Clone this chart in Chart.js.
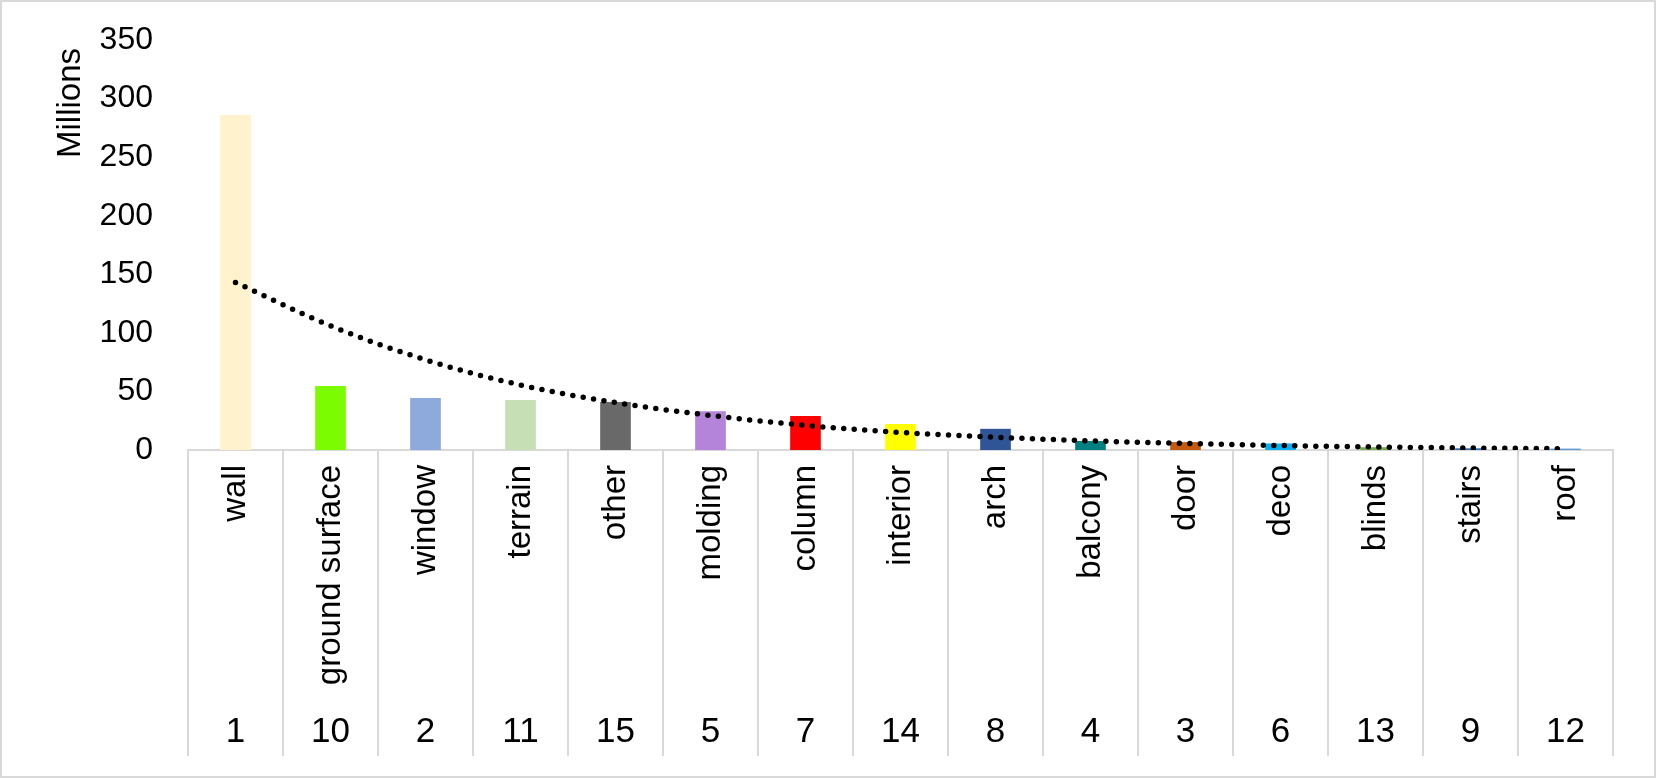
<!DOCTYPE html>
<html>
<head>
<meta charset="utf-8">
<style>
  html, body { margin: 0; padding: 0; background: #fff; }
  #wrap { width: 1656px; height: 778px; position: relative; }
</style>
<script src="https://cdn.jsdelivr.net/npm/chart.js@4"></script>
</head>
<body>
<div id="wrap"><canvas id="chart" width="1656" height="778"></canvas></div>
<script>
// categories in display order (sorted by size), with their class id
const categories = ["wall", "ground surface", "window", "terrain", "other", "molding", "column",
                    "interior", "arch", "balcony", "door", "deco", "blinds", "stairs", "roof"];
const classIds = ["1", "10", "2", "11", "15", "5", "7", "14", "8", "4", "3", "6", "13", "9", "12"];

// point counts, millions
const counts = [285.6, 54.4, 44.2, 42.4, 40.7, 32.7, 28.7, 21.9, 17.8, 7.4, 6.5, 5.3, 2.1, 1.2, 0.9];

const trend = [143, 106, 77, 55.5, 40.5, 29.5, 21, 15, 10.9, 7.8, 5.6, 3.8, 2.6, 1.7, 1.1];

const barColors = ["#FFF2CC", "#7CFC00", "#8EA9DB", "#C6E0B4", "#696969", "#B483DA", "#FF0000",
                   "#FFFF00", "#2F5597", "#008080", "#C55A11", "#00B0F0", "#70AD47", "#2E75B6", "#5B9BD5"];

const yTicks = [0, 50, 100, 150, 200, 250, 300, 350];

const FONT = "'Liberation Sans', Arial, sans-serif";
const NARROW = "'Liberation Sans Narrow', 'Arial Narrow', 'Liberation Sans', sans-serif";

// draws the two-level category axis labels + frame
const axisLabels = {
    id: "axisLabels",
    beforeDraw(chart) {
        const ctx = chart.ctx;
        ctx.save();
        ctx.fillStyle = "#fff";
        ctx.fillRect(0, 0, chart.width, chart.height);
        ctx.strokeStyle = "#D9D9D9";
        ctx.lineWidth = 2;
        ctx.strokeRect(1, 1, chart.width - 2, chart.height - 2);
        ctx.restore();
    },
    afterDraw(chart) {
        const ctx = chart.ctx;
        const x = chart.scales.x;
        ctx.save();
        ctx.fillStyle = "#000";

        // rotated names
        ctx.font = "33px " + FONT;
        ctx.textAlign = "right";
        ctx.textBaseline = "middle";
        categories.forEach((name, i) => {
            ctx.save();
            ctx.translate(x.getPixelForValue(i), 465);
            ctx.rotate(-Math.PI / 2);
            ctx.fillText(name, 0, 0);
            ctx.restore();
        });

        // class ids underneath
        ctx.font = "35px " + NARROW;
        ctx.textAlign = "center";
        classIds.forEach((id, i) => {
            ctx.fillText(id, x.getPixelForValue(i), 732);
        });

        // y axis title
        ctx.font = "33px " + FONT;
        ctx.translate(71, 103);
        ctx.rotate(-Math.PI / 2);
        ctx.textAlign = "center";
        ctx.fillText("Millions", 0, 0);
        ctx.restore();
    }
};

new Chart(document.getElementById("chart"), {
    data: {
        labels: categories,
        datasets: [
            {
                type: "line",
                data: trend,
                borderColor: "#000",
                borderWidth: 5.5,
                borderDash: [0, 10.5],
                borderCapStyle: "round",
                pointRadius: 0,
                cubicInterpolationMode: "monotone",
                fill: false,
                order: 0
            },
            {
                type: "bar",
                data: counts,
                backgroundColor: barColors,
                barThickness: 30,
                order: 1
            }
        ]
    },
    options: {
        responsive: false,
        animation: false,
        layout: { padding: { top: 40, right: 43, bottom: 0, left: 0 } },
        plugins: { legend: { display: false }, tooltip: { enabled: false } },
        scales: {
            x: {
                offset: true,
                grid: {
                    offset: true,
                    drawOnChartArea: false,
                    drawTicks: true,
                    tickLength: 306,
                    color: "#D9D9D9",
                    lineWidth: 2
                },
                border: { display: true, color: "#D9D9D9", width: 2 },
                ticks: { display: false },
                afterFit: s => { s.height = 328; }
            },
            y: {
                min: 0,
                max: 350,
                grid: { display: false },
                border: { display: false },
                afterBuildTicks: s => { s.ticks = yTicks.map(v => ({ value: v })); },
                ticks: {
                    padding: 27,
                    color: "#000",
                    font: { family: FONT, size: 32 }
                },
                afterFit: s => {
                    s.width = 188;
                    s.paddingTop = 0;
                    s.paddingBottom = 0;
                }
            }
        }
    },
    plugins: [axisLabels]
});
</script>
</body>
</html>
